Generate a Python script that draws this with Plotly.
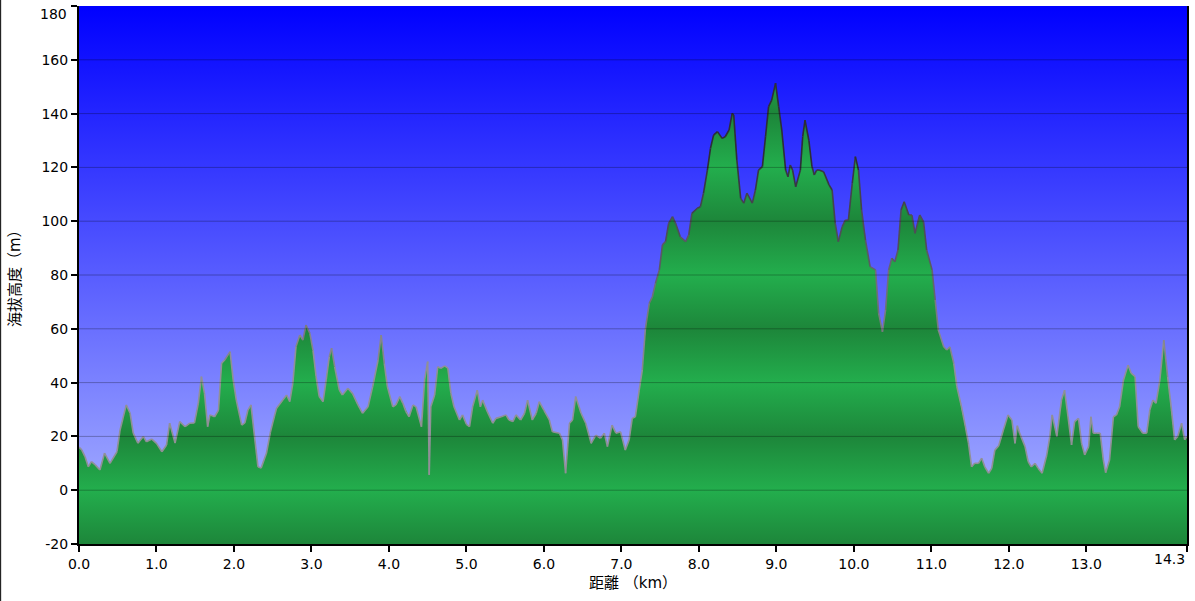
import plotly.graph_objects as go

# ---------------- data ----------------
distance_km = [
    0.00, 0.035, 0.077, 0.12, 0.16, 0.21, 0.27, 0.33, 0.40, 0.49, 0.53, 0.61, 0.66, 0.70, 0.76,
    0.83, 0.87, 0.94, 1.00, 1.07, 1.13, 1.17, 1.24, 1.30, 1.37, 1.43, 1.49, 1.54, 1.58, 1.62,
    1.66, 1.69, 1.75, 1.80, 1.84, 1.88, 1.95, 1.99, 2.03, 2.10, 2.14, 2.18, 2.22, 2.27, 2.31,
    2.35, 2.42, 2.47, 2.52, 2.55, 2.63, 2.68, 2.72, 2.76, 2.80, 2.85, 2.89, 2.93, 2.98, 3.02,
    3.06, 3.10, 3.15, 3.19, 3.23, 3.26, 3.30, 3.36, 3.40, 3.47, 3.53, 3.60, 3.66, 3.73, 3.79,
    3.86, 3.90, 3.94, 3.98, 4.05, 4.09, 4.14, 4.18, 4.22, 4.26, 4.31, 4.35, 4.42, 4.46, 4.50,
    4.52, 4.54, 4.59, 4.63, 4.67, 4.72, 4.76, 4.80, 4.84, 4.91, 4.95, 5.00, 5.04, 5.08, 5.14,
    5.18, 5.21, 5.27, 5.34, 5.38, 5.45, 5.51, 5.55, 5.60, 5.64, 5.70, 5.75, 5.79, 5.85, 5.90,
    5.94, 6.00, 6.07, 6.11, 6.20, 6.24, 6.28, 6.33, 6.37, 6.41, 6.48, 6.54, 6.61, 6.67, 6.73,
    6.78, 6.82, 6.88, 6.93, 6.99, 7.05, 7.10, 7.14, 7.18, 7.23, 7.27, 7.31, 7.36, 7.40, 7.44,
    7.49, 7.53, 7.57, 7.61, 7.66, 7.70, 7.76, 7.83, 7.87, 7.91, 7.98, 8.02, 8.06, 8.11, 8.15,
    8.19, 8.24, 8.30, 8.34, 8.39, 8.43, 8.45, 8.49, 8.54, 8.58, 8.62, 8.69, 8.73, 8.77, 8.82,
    8.86, 8.90, 8.94, 8.99, 9.03, 9.07, 9.12, 9.15, 9.18, 9.21, 9.25, 9.31, 9.34, 9.37, 9.42,
    9.46, 9.49, 9.52, 9.55, 9.61, 9.68, 9.72, 9.76, 9.80, 9.85, 9.89, 9.93, 9.98, 10.02, 10.06,
    10.10, 10.15, 10.21, 10.28, 10.32, 10.37, 10.41, 10.45, 10.49, 10.53, 10.57, 10.61, 10.65, 10.71, 10.75,
    10.79, 10.85, 10.90, 10.94, 11.01, 11.05, 11.09, 11.16, 11.20, 11.24, 11.29, 11.33, 11.39, 11.44, 11.48,
    11.52, 11.56, 11.61, 11.65, 11.69, 11.74, 11.78, 11.82, 11.87, 11.93, 11.99, 12.04, 12.08, 12.11, 12.14,
    12.21, 12.25, 12.29, 12.34, 12.38, 12.43, 12.49, 12.53, 12.56, 12.62, 12.68, 12.72, 12.77, 12.81, 12.85,
    12.90, 12.94, 12.98, 13.03, 13.06, 13.09, 13.13, 13.18, 13.22, 13.25, 13.30, 13.35, 13.39, 13.43, 13.48,
    13.54, 13.58, 13.63, 13.67, 13.73, 13.78, 13.82, 13.86, 13.90, 13.95, 14.00, 14.05, 14.10, 14.14, 14.18,
    14.23, 14.27, 14.30,
]

elevation_m = [
    16.0, 15.0, 12.5, 8.7, 10.6, 9.4, 7.5, 13.8, 10.0, 14.3, 22.4, 31.7, 28.6, 21.2, 17.5,
    20.0, 18.0, 19.0, 17.4, 14.3, 16.8, 24.9, 17.5, 25.5, 23.6, 24.9, 25.0, 32.4, 42.2, 36.0,
    23.6, 28.0, 27.3, 29.8, 47.2, 48.4, 51.5, 41.0, 33.5, 24.2, 25.0, 29.8, 31.7, 18.7, 8.7,
    8.2, 13.8, 21.5, 27.3, 30.5, 33.5, 35.4, 32.9, 39.8, 53.3, 57.7, 55.8, 61.4, 58.3, 52.0,
    42.2, 34.8, 32.9, 41.0, 49.6, 52.8, 45.9, 37.2, 35.4, 37.9, 36.0, 31.7, 28.6, 31.0, 38.5,
    48.4, 57.7, 47.2, 38.5, 31.0, 31.7, 34.8, 32.3, 29.2, 27.3, 31.7, 31.0, 23.6, 41.0, 47.8,
    5.7, 31.0, 35.4, 45.9, 45.3, 46.2, 45.4, 36.0, 31.0, 26.1, 28.0, 24.5, 23.6, 31.0, 37.2,
    31.0, 33.5, 29.2, 24.9, 26.7, 27.3, 28.0, 26.1, 25.5, 28.0, 26.1, 28.6, 33.5, 26.1, 28.6,
    32.9, 29.8, 26.1, 21.7, 21.2, 18.7, 6.3, 24.9, 26.1, 34.8, 28.6, 24.9, 17.4, 20.5, 19.3,
    21.2, 16.2, 24.2, 21.2, 21.7, 14.9, 18.7, 26.7, 27.3, 37.2, 44.7, 60.0, 69.5, 71.9, 76.9,
    81.9, 91.2, 92.4, 99.2, 101.7, 99.2, 94.2, 92.4, 94.9, 102.9, 104.8, 105.4, 110.4, 119.0, 127.1,
    132.0, 133.3, 130.8, 131.4, 133.9, 140.1, 139.5, 122.8, 108.5, 106.7, 110.4, 106.7, 111.6, 119.0, 120.3,
    131.4, 142.6, 145.0, 151.3, 142.6, 133.9, 119.0, 116.5, 120.9, 119.0, 112.8, 119.0, 131.4, 137.6, 130.0,
    120.3, 117.2, 119.0, 119.0, 118.4, 113.5, 111.6, 99.2, 92.4, 98.0, 100.4, 100.4, 114.1, 124.0, 119.0,
    104.2, 93.0, 83.1, 81.9, 65.8, 58.9, 67.0, 81.9, 86.2, 84.9, 89.3, 104.2, 107.2, 102.3, 102.3,
    95.5, 102.3, 99.8, 89.3, 81.9, 70.7, 59.6, 53.3, 52.1, 53.3, 47.2, 38.5, 31.0, 23.6, 17.4,
    8.7, 10.0, 10.0, 11.9, 8.7, 6.3, 8.1, 14.9, 16.5, 22.4, 28.0, 26.1, 17.4, 24.0, 21.2,
    16.2, 10.6, 8.7, 10.0, 8.1, 6.3, 13.1, 20.0, 28.0, 20.0, 33.5, 37.2, 26.1, 16.8, 25.5,
    26.7, 17.4, 13.1, 16.2, 27.3, 21.2, 21.2, 21.2, 11.2, 6.5, 11.2, 27.3, 28.0, 31.0, 41.0,
    46.5, 43.5, 42.2, 23.6, 21.2, 21.2, 29.8, 33.5, 32.3, 41.0, 55.8, 42.2, 29.8, 18.7, 20.0,
    24.9, 18.7, 20.0,
]

y_ticks = [-20, 0, 20, 40, 60, 80, 100, 120, 140, 160, 180]
y_tick_labels = [str(v) for v in y_ticks]
x_ticks = [0, 1, 2, 3, 4, 5, 6, 7, 8, 9, 10, 11, 12, 13, 14.3]
x_tick_labels = ["0.0", "1.0", "2.0", "3.0", "4.0", "5.0", "6.0", "7.0", "8.0",
                 "9.0", "10.0", "11.0", "12.0", "13.0", "14.3"]

x_title = "距離 （km）"
y_title = "海拔高度（m）"

# ---------------- layout constants ----------------
W, H = 1195, 601
ML, MR, MT, MB = 79, 6, 6, 57
PW, PH = W - ML - MR, H - MT - MB
X_MIN, X_MAX = x_ticks[0], x_ticks[-1]
Y_MIN, Y_MAX = y_ticks[0], y_ticks[-1]

FONT = "DejaVu Sans, Verdana, Noto Sans CJK JP, sans-serif"
TF = dict(family=FONT, size=14, color="black")
TITLEF = dict(family=FONT, size=15, color="black")

fig = go.Figure()

# gradient sky background
fig.add_trace(go.Scatter(
    x=[X_MIN, X_MAX, X_MAX, X_MIN], y=[Y_MIN, Y_MIN, Y_MAX, Y_MAX],
    mode="lines", line=dict(width=0), fill="toself",
    fillgradient=dict(type="vertical",
                      colorscale=[[0, "rgb(176,186,255)"], [1, "rgb(0,0,255)"]],
                      start=Y_MIN, stop=Y_MAX),
    hoverinfo="skip", showlegend=False))

# base for the filled area (bottom of axis)
fig.add_trace(go.Scatter(
    x=distance_km, y=[Y_MIN] * len(distance_km), mode="lines",
    line=dict(width=0), hoverinfo="skip", showlegend=False))

# banded green gradient
green_scale = []
for v in y_ticks:
    pos = (v - Y_MIN) / (Y_MAX - Y_MIN)
    col = "rgb(29,134,58)" if (v - 20) % 40 == 0 else "rgb(35,174,77)"
    green_scale.append([pos, col])

fig.add_trace(go.Scatter(
    x=distance_km, y=elevation_m, mode="lines", line=dict(width=0),
    fill="tonexty",
    fillgradient=dict(type="vertical", colorscale=green_scale,
                      start=Y_MIN, stop=Y_MAX),
    showlegend=False))

# outline: colour darkens with elevation
NB = 10
def seg_color(y):
    t = min(max((y - 40) / 90.0, 0.0), 1.0)
    g0, g1 = (150, 150, 155), (40, 40, 50)
    c = [round(a + (b - a) * t) for a, b in zip(g0, g1)]
    return "rgb(%d,%d,%d)" % tuple(c)

buckets = {b: ([], []) for b in range(NB)}
for i in range(len(distance_km) - 1):
    ym = 0.5 * (elevation_m[i] + elevation_m[i + 1])
    t = min(max((ym - 40) / 90.0, 0.0), 1.0)
    b = min(int(t * NB), NB - 1)
    xs, ys = buckets[b]
    xs += [distance_km[i], distance_km[i + 1], None]
    ys += [elevation_m[i], elevation_m[i + 1], None]
for b in range(NB):
    xs, ys = buckets[b]
    if not xs:
        continue
    yc = 40 + (b + 0.5) / NB * 90
    fig.add_trace(go.Scatter(x=xs, y=ys, mode="lines",
                             line=dict(color=seg_color(yc), width=1.6),
                             hoverinfo="skip", showlegend=False))

# grid lines drawn above the fill
shapes = []
for v in y_ticks[1:-1]:
    shapes.append(dict(type="line", xref="paper", yref="y", x0=0, x1=1, y0=v, y1=v,
                       line=dict(color="rgba(0,0,0,0.28)", width=1), layer="above"))
# left border of the image
shapes.append(dict(type="line", xref="paper", yref="paper",
                   x0=(0.5 - ML) / PW, x1=(0.5 - ML) / PW,
                   y0=-MB / PH, y1=1 + MT / PH,
                   line=dict(color="black", width=1), layer="above"))

annotations = [
    dict(text=y_title, xref="paper", yref="paper", x=(15 - ML) / PW, y=0.5,
         xanchor="center", yanchor="middle", textangle=-90, showarrow=False, font=TITLEF),
    dict(text=x_title, xref="paper", yref="paper", x=0.5, y=-(583 - (MT + PH)) / PH,
         xanchor="center", yanchor="middle", showarrow=False, font=TITLEF),
    # last x tick label, kept inside the figure (right aligned)
    dict(text=x_tick_labels[-1], xref="x", yref="paper", x=X_MAX, y=0,
         xanchor="right", yanchor="top", yshift=-5, showarrow=False, font=TF),
    # top y tick label, kept inside the figure (top aligned)
    dict(text=y_tick_labels[-1], xref="paper", yref="y", x=0, y=Y_MAX,
         xanchor="right", yanchor="top", xshift=-10, yshift=2, showarrow=False, font=TF),
]

fig.update_layout(
    width=W, height=H,
    margin=dict(l=ML, r=MR, t=MT, b=MB, pad=0),
    paper_bgcolor="white", plot_bgcolor="white",
    showlegend=False,
    shapes=shapes, annotations=annotations,
    font=TF,
    xaxis=dict(range=[X_MIN, X_MAX], tickvals=x_ticks,
               ticktext=x_tick_labels[:-1] + [""],
               showgrid=False, zeroline=False, showline=True, linecolor="black",
               linewidth=2, ticks="outside", ticklen=6, tickwidth=2, tickcolor="black",
               layer="above traces", tickfont=TF),
    yaxis=dict(range=[Y_MIN, Y_MAX], tickvals=y_ticks,
               ticktext=y_tick_labels[:-1] + [""],
               showgrid=False, zeroline=False, showline=True, linecolor="black",
               linewidth=2, mirror=True, ticks="outside", ticklen=6, tickwidth=2,
               tickcolor="black", layer="above traces", tickfont=TF),
)

fig.write_html("out.html", config={"displayModeBar": False},
               post_script="document.body.style.margin='0';document.body.style.overflow='hidden';")
